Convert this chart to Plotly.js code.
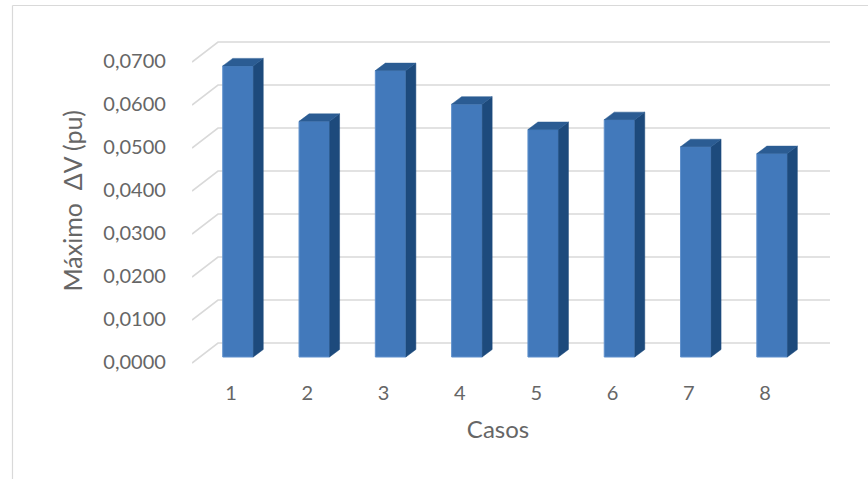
<!DOCTYPE html>
<html><head><meta charset="utf-8">
<script src="https://cdn.plot.ly/plotly-3.0.1.min.js"></script>
<style>html,body{margin:0;padding:0;background:#fff}#c{width:868px;height:479px}</style>
</head><body><div id="c"></div>
<script>
// ---- data ----
const casos = ['1','2','3','4','5','6','7','8'];
const casoPos = [1,2,3,4,5,6,7,8];
const maxDeltaV = [0.0677,0.0548,0.0666,0.0588,0.0529,0.0552,0.0489,0.0473];
const yTicks = [0,0.01,0.02,0.03,0.04,0.05,0.06,0.07];

// ---- geometry (pixels) ----
const W = 868, H = 479;
const SCALE = 4300;          // px per unit of ΔV
const CAT = 76.3;            // px per category
const yRange = [-0.01, 0.075];
function xdom(a,b){return [a/W, b/W];}
function ydom(zeroPx, r){const bot = zeroPx - SCALE*r[0], top = zeroPx - SCALE*r[1]; return [1-bot/H, 1-top/H];}
function catDom(firstCenterPx){const l = firstCenterPx - 0.5*CAT; return xdom(l, l + 8*CAT);}

const txt = '#666666', grid = '#d9d9d9', font = 'Lato, "Open Sans", sans-serif';
const front = '#4279bb', side = '#1d4a7c', topc = '#2b5c93';

// back wall grid + left diagonal connectors built from tick values
const gx = [], gy = [];
const back = 26/638, depthDy = 20/SCALE;
yTicks.forEach(v => { gx.push(0, back, 1, null); gy.push(v - depthDy, v, v, null); });

// 3D faces derived from the values
const hw = 0.2, dx = 10/CAT, dy = 7.5/SCALE;
const sx = [], sy = [], tx = [], ty = [];
casoPos.forEach((p,i) => {
  const v = maxDeltaV[i];
  sx.push(p+hw, p+hw+dx, p+hw+dx, p+hw, p+hw, null);
  sy.push(0, dy, v+dy, v, 0, null);
  tx.push(p-hw, p+hw, p+hw+dx, p-hw+dx, p-hw, null);
  ty.push(v, v, v+dy, v+dy, v, null);
});

const traces = [
  {type:'scatter', mode:'lines', x:gx, y:gy, xaxis:'x', yaxis:'y', line:{color:grid, width:1.6}, hoverinfo:'skip', showlegend:false},
  {type:'bar', x:casoPos, y:maxDeltaV, xaxis:'x2', yaxis:'y2', width:0.4, marker:{color:front, line:{color:'#5f90cc', width:1}}, showlegend:false},
  {type:'scatter', mode:'lines', x:sx, y:sy, xaxis:'x2', yaxis:'y2', fill:'toself', fillcolor:side, line:{color:side, width:0.5}, hoverinfo:'skip', showlegend:false},
  {type:'scatter', mode:'lines', x:tx, y:ty, xaxis:'x2', yaxis:'y2', fill:'toself', fillcolor:topc, line:{color:topc, width:0.5}, hoverinfo:'skip', showlegend:false},
  {type:'scatter', mode:'markers', x:casoPos, y:maxDeltaV, xaxis:'x3', yaxis:'y3', marker:{opacity:0}, hoverinfo:'skip', showlegend:false}
];

const hidden = {visible:true, showgrid:false, zeroline:false, showline:false, showticklabels:false, ticks:''};
const layout = {
  width:W, height:H, margin:{l:0,r:0,t:0,b:0},
  paper_bgcolor:'#ffffff', plot_bgcolor:'rgba(0,0,0,0)',
  separators:',.', showlegend:false,
  font:{family:font, color:txt},
  xaxis: Object.assign({}, hidden, {domain:xdom(192,830), range:[0,1], anchor:'y'}),
  yaxis: Object.assign({}, hidden, {domain:ydom(343,yRange), range:yRange, anchor:'x'}),
  xaxis2: Object.assign({}, hidden, {domain:catDom(238), range:[0.5,8.5], anchor:'y2'}),
  yaxis2: Object.assign({}, hidden, {domain:ydom(357,yRange), range:yRange, anchor:'x2'}),
  xaxis3: {domain:catDom(231), range:[0.5,8.5], anchor:'y3', tickmode:'array', tickvals:casoPos, ticktext:casos,
           showgrid:false, zeroline:false, showline:false, ticks:'outside', ticklen:13, tickcolor:'rgba(0,0,0,0)',
           tickfont:{size:20, color:txt, family:font},
           title:{text:'Casos', font:{size:24, color:txt, family:font}, standoff:18}},
  yaxis3: {domain:ydom(362,[0,0.075]), range:[0,0.075], anchor:'x3', tickmode:'array', tickvals:yTicks, tickformat:'.4f',
           showgrid:false, zeroline:false, showline:false, ticks:'outside', ticklen:22, tickcolor:'rgba(0,0,0,0)',
           tickfont:{size:20, color:txt, family:font},
           title:{text:'Máximo  ΔV (pu)', font:{size:25, color:txt, family:font}, standoff:13}},
  shapes:[
    {type:'line', xref:'paper', yref:'paper', x0:12.5/W, x1:1.01, y0:1-5.5/H, y1:1-5.5/H, line:{color:grid, width:1.2}},
    {type:'line', xref:'paper', yref:'paper', x0:12.5/W, x1:12.5/W, y0:1-5.5/H, y1:-0.01, line:{color:grid, width:1.2}}
  ]
};
Plotly.newPlot('c', traces, layout, {staticPlot:true});
</script></body></html>
